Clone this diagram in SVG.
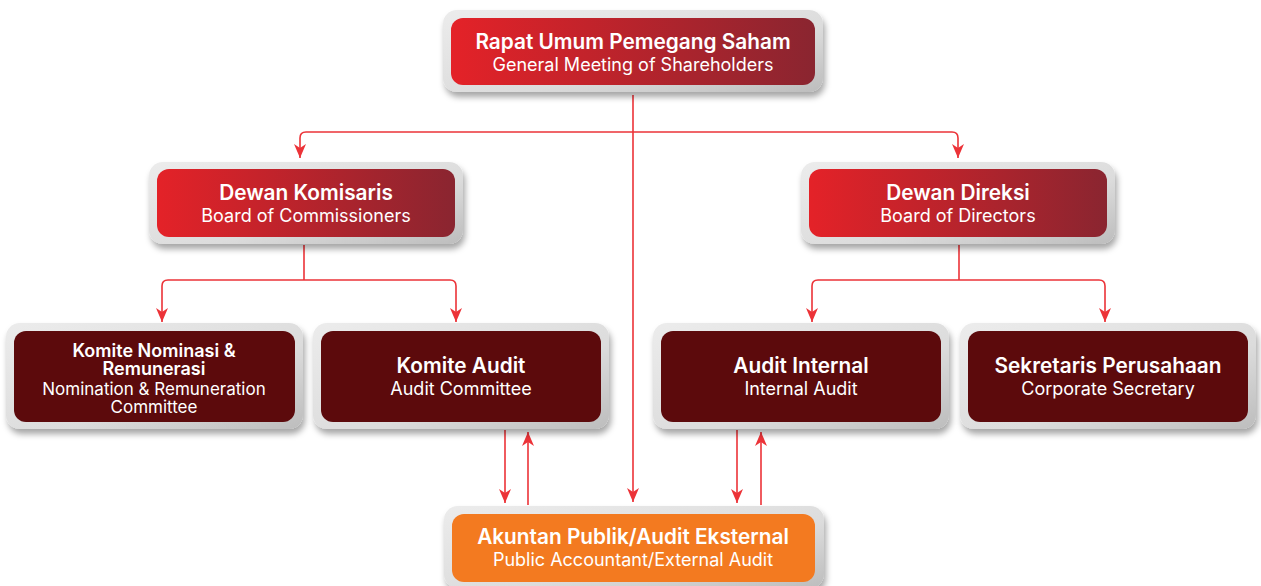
<svg xmlns="http://www.w3.org/2000/svg" width="1261" height="586" viewBox="0 0 1261 586">
<style>
.frame{fill:url(#fr);filter:url(#sh)}
.red{fill:url(#rg)}
.dark{fill:#5c0a0c}
.org{fill:#f37a20}
.t{font-family:Inter,"Noto Sans",sans-serif;font-weight:600;font-size:20.8px;fill:#fff;text-anchor:middle}
.s{font-family:Inter,"Noto Sans",sans-serif;font-weight:400;font-size:18px;fill:#fff;text-anchor:middle}
.c{fill:none;stroke:#ec3338;stroke-width:1.6}
</style>
<defs>
<linearGradient id="rg" x1="0" y1="0" x2="1" y2="0"><stop offset="0" stop-color="#e42228"/><stop offset="1" stop-color="#8a2530"/></linearGradient>
<linearGradient id="fr" x1="0" y1="0" x2="1" y2="1"><stop offset="0" stop-color="#ececec"/><stop offset="0.6" stop-color="#dcdcdc"/><stop offset="1" stop-color="#bdbdbd"/></linearGradient>
<filter id="sh" x="-10%" y="-20%" width="120%" height="160%"><feDropShadow dx="2" dy="5" stdDeviation="3" flood-color="#000" flood-opacity="0.35"/></filter>
<marker id="a" markerWidth="14" markerHeight="12" refX="14" refY="6" orient="auto-start-reverse" markerUnits="userSpaceOnUse" viewBox="0 0 14 12"><path d="M0,0 L14,6 L0,12 L4,6 Z" fill="#ec3338"/></marker>
</defs>
<g id="connectors">
<path class="c" d="M633,95 V502" marker-end="url(#a)"/>
<path class="c" d="M300,158 V138 Q300,132 306,132 H952 Q958,132 958,138 V158" marker-start="url(#a)" marker-end="url(#a)"/>
<path class="c" d="M304,245 V280"/>
<path class="c" d="M162,322 V286 Q162,280 168,280 H450 Q456,280 456,286 V322" marker-start="url(#a)" marker-end="url(#a)"/>
<path class="c" d="M959,245 V280"/>
<path class="c" d="M812,322 V286 Q812,280 818,280 H1099 Q1105,280 1105,286 V322" marker-start="url(#a)" marker-end="url(#a)"/>
<path class="c" d="M505,430 V503" marker-end="url(#a)"/>
<path class="c" d="M528,505 V432" marker-end="url(#a)"/>
<path class="c" d="M737,430 V503" marker-end="url(#a)"/>
<path class="c" d="M761,505 V432" marker-end="url(#a)"/>
</g>
<g id="rups">
<rect class="frame" x="443" y="10" width="380" height="82" rx="14"/>
<rect class="red" x="451" y="18" width="364" height="67" rx="12"/>
<text class="t" x="633" y="49">Rapat Umum Pemegang Saham</text>
<text class="s" x="633" y="71">General Meeting of Shareholders</text>
</g>
<g id="dekom">
<rect class="frame" x="149" y="162" width="314" height="82" rx="14"/>
<rect class="red" x="157" y="169" width="298" height="68" rx="12"/>
<text class="t" x="306" y="200">Dewan Komisaris</text>
<text class="s" x="306" y="222">Board of Commissioners</text>
</g>
<g id="direksi">
<rect class="frame" x="801" y="162" width="314" height="82" rx="14"/>
<rect class="red" x="809" y="169" width="298" height="68" rx="12"/>
<text class="t" x="958" y="200">Dewan Direksi</text>
<text class="s" x="958" y="222">Board of Directors</text>
</g>
<g id="knr">
<rect class="frame" x="6" y="323" width="297" height="106" rx="14"/>
<rect class="dark" x="14" y="331" width="281" height="91" rx="12"/>
<text class="t" x="154" y="357" style="font-size:18px">Komite Nominasi &amp;</text>
<text class="t" x="154" y="375" style="font-size:18px">Remunerasi</text>
<text class="s" x="154" y="395" style="font-size:17px">Nomination &amp; Remuneration</text>
<text class="s" x="154" y="413" style="font-size:17px">Committee</text>
</g>
<g id="ka">
<rect class="frame" x="313" y="323" width="296" height="106" rx="14"/>
<rect class="dark" x="321" y="331" width="280" height="91" rx="12"/>
<text class="t" x="461" y="373">Komite Audit</text>
<text class="s" x="461" y="395">Audit Committee</text>
</g>
<g id="ai">
<rect class="frame" x="653" y="323" width="296" height="106" rx="14"/>
<rect class="dark" x="661" y="331" width="280" height="91" rx="12"/>
<text class="t" x="801" y="373">Audit Internal</text>
<text class="s" x="801" y="395">Internal Audit</text>
</g>
<g id="sekper">
<rect class="frame" x="960" y="323" width="296" height="106" rx="14"/>
<rect class="dark" x="968" y="331" width="280" height="91" rx="12"/>
<text class="t" x="1108" y="373">Sekretaris Perusahaan</text>
<text class="s" x="1108" y="395">Corporate Secretary</text>
</g>
<g id="eksternal">
<rect class="frame" x="444" y="506" width="380" height="82" rx="14"/>
<rect class="org" x="452" y="514" width="363" height="68" rx="12"/>
<text class="t" x="633" y="544">Akuntan Publik/Audit Eksternal</text>
<text class="s" x="633" y="566">Public Accountant/External Audit</text>
</g>
</svg>
